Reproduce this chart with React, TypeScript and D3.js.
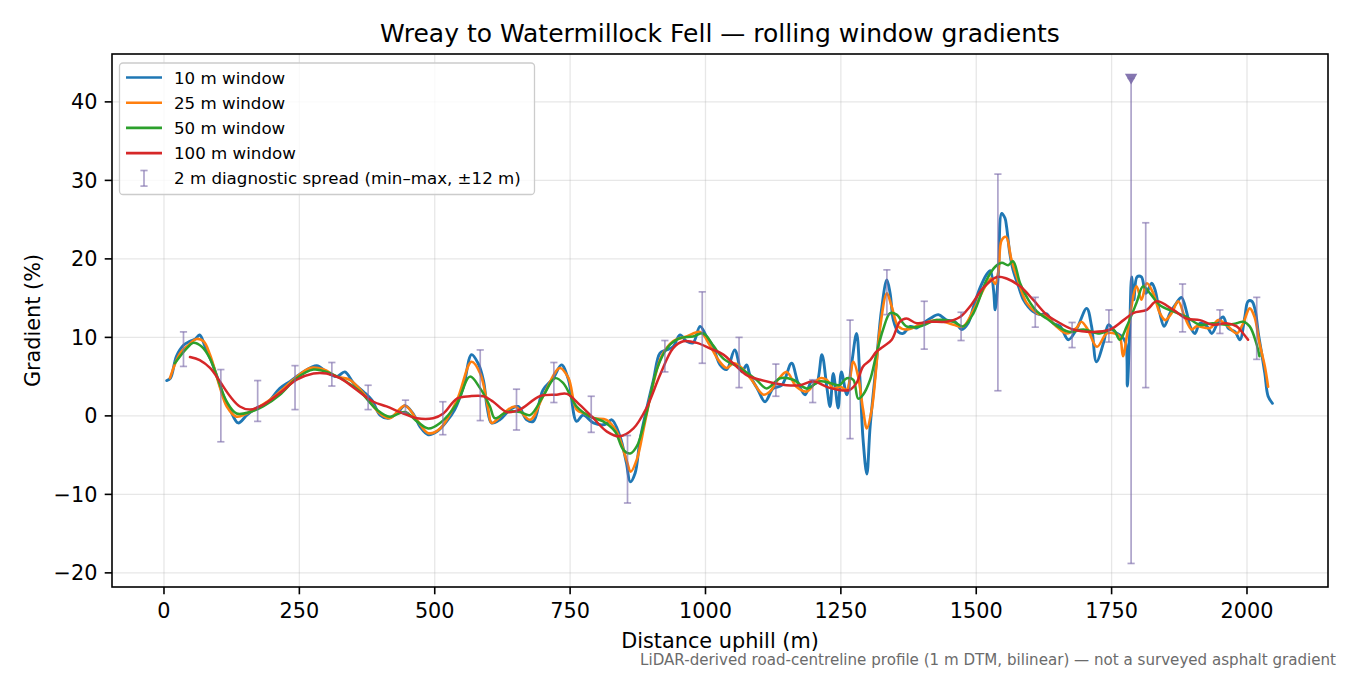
import React, { FC } from 'react'
import * as d3 from 'd3'

// distance uphill (m) and gradient (%) for each rolling window
const dist10 = [5, 12, 23, 36, 48, 58, 66, 76, 88, 100, 110, 122, 137, 153, 171, 190, 214, 233, 257, 282, 300, 319, 334, 350, 368, 384, 399, 414, 430, 445, 460, 473, 488, 504, 522, 537, 553, 568, 580, 590, 597, 605, 620, 639, 654, 670, 682, 700, 719, 734, 747, 762, 774, 793, 814, 827, 842, 854, 861, 870, 879, 891, 904, 916, 928, 940, 953, 965, 977, 990, 1002, 1014, 1027, 1039, 1054, 1067, 1076, 1082, 1097, 1110, 1125, 1141, 1159, 1171, 1184, 1196, 1205, 1215, 1224, 1230, 1236, 1245, 1251, 1261, 1270, 1279, 1285, 1291, 1298, 1304, 1316, 1325, 1335, 1341, 1347, 1356, 1365, 1378, 1390, 1402, 1415, 1430, 1445, 1461, 1473, 1485, 1495, 1507, 1519, 1526, 1532, 1535, 1541, 1547, 1553, 1556, 1562, 1568, 1578, 1587, 1596, 1605, 1618, 1630, 1642, 1655, 1670, 1685, 1704, 1713, 1722, 1735, 1744, 1756, 1769, 1776, 1779, 1783, 1787, 1791, 1797, 1805, 1813, 1824, 1830, 1839, 1847, 1858, 1870, 1879, 1889, 1895, 1904, 1913, 1926, 1935, 1947, 1956, 1965, 1978, 1987, 1996, 2002, 2009, 2015, 2021, 2027, 2033, 2039, 2047]
const grad10 = [4.5, 4.8, 7.6, 9.0, 9.5, 9.8, 10.3, 8.8, 6.9, 4.6, 2.5, 0.8, -0.9, 0.1, 1.0, 1.6, 3.5, 4.4, 5.6, 6.4, 5.6, 5.0, 5.6, 4.2, 3.1, 2.0, 0.1, -0.3, 0.3, 1.3, 0.3, -1.4, -2.4, -2.0, -0.7, 0.8, 3.7, 7.8, 6.7, 4.5, 1.0, -0.9, -0.5, 0.8, 1.2, -0.5, -0.7, 3.3, 4.8, 6.5, 4.6, -0.7, 0.1, -0.9, -1.1, -0.5, -2.6, -6.0, -8.4, -7.3, -3.1, 0.8, 4.6, 8.0, 8.4, 8.8, 10.3, 9.5, 9.3, 11.4, 10.1, 8.8, 6.5, 5.9, 8.4, 5.6, 6.5, 5.2, 3.3, 1.8, 3.5, 3.9, 6.7, 4.2, 2.7, 4.4, 4.2, 7.8, 3.7, 1.2, 5.4, 1.0, 5.6, 2.7, 6.7, 10.5, 5.0, -3.0, -7.4, -1.4, 7.1, 13.5, 17.3, 15.6, 12.2, 10.7, 10.5, 11.4, 11.2, 11.8, 12.4, 12.9, 12.2, 12.0, 11.0, 11.8, 13.9, 16.3, 18.0, 18.5, 16.0, 13.5, 18.2, 25.8, 25.2, 24.1, 20.7, 18.6, 16.5, 14.8, 13.9, 13.3, 12.9, 13.0, 11.8, 11.4, 9.7, 11.0, 13.7, 11.4, 6.9, 9.3, 11.6, 10.7, 10.1, 9.3, 3.8, 10.0, 17.7, 14.8, 17.7, 17.7, 15.6, 16.9, 16.1, 13.1, 11.4, 13.1, 14.4, 15.1, 13.1, 11.4, 10.5, 11.8, 11.4, 10.5, 12.0, 12.6, 11.2, 10.7, 9.7, 12.6, 14.6, 14.6, 13.5, 10.5, 8.0, 5.4, 2.5, 1.6]

const dist25 = [11, 30, 45, 60, 73, 85, 103, 116, 134, 153, 177, 208, 239, 270, 295, 319, 343, 368, 399, 417, 445, 467, 488, 510, 541, 568, 584, 599, 605, 627, 648, 676, 700, 731, 747, 762, 777, 795, 817, 836, 854, 862, 873, 888, 904, 919, 940, 965, 990, 1008, 1024, 1039, 1052, 1064, 1085, 1107, 1119, 1134, 1150, 1168, 1187, 1211, 1224, 1236, 1249, 1261, 1273, 1282, 1291, 1298, 1307, 1316, 1322, 1335, 1344, 1356, 1371, 1396, 1427, 1458, 1476, 1495, 1519, 1528, 1535, 1541, 1547, 1555, 1565, 1577, 1593, 1612, 1630, 1648, 1667, 1685, 1694, 1706, 1723, 1741, 1756, 1765, 1771, 1779, 1796, 1805, 1815, 1827, 1839, 1849, 1861, 1873, 1885, 1898, 1907, 1932, 1947, 1962, 1981, 1993, 2005, 2014, 2023, 2033, 2039]
const grad25 = [4.8, 8.0, 9.0, 9.8, 9.5, 7.8, 3.7, 1.2, -0.1, 0.3, 1.2, 2.7, 4.6, 6.1, 5.9, 5.0, 4.6, 2.9, 0.3, -0.3, 1.3, -0.5, -2.2, -1.6, 2.0, 6.9, 5.4, 0.8, -0.9, 0.3, 1.2, -0.5, 2.5, 6.1, 4.8, 0.8, 0.3, -0.3, -0.5, -2.0, -5.6, -7.1, -5.6, -0.9, 4.2, 7.6, 9.5, 10.1, 10.7, 9.0, 7.1, 6.1, 6.7, 6.3, 4.6, 2.7, 3.1, 4.6, 5.6, 3.7, 3.1, 4.8, 4.6, 3.5, 3.7, 3.3, 6.9, 5.0, 0.8, -1.6, 0.8, 6.7, 11.0, 15.6, 13.9, 11.4, 11.0, 11.6, 12.2, 11.6, 11.4, 13.5, 16.8, 17.5, 16.8, 18.5, 22.4, 22.8, 19.9, 17.3, 14.4, 13.1, 12.6, 11.4, 10.5, 11.2, 12.0, 11.0, 8.8, 10.5, 10.5, 10.1, 7.6, 10.5, 16.5, 14.8, 16.9, 15.6, 13.1, 12.2, 13.1, 14.6, 12.6, 11.0, 11.4, 11.2, 12.2, 11.6, 10.5, 11.8, 13.7, 12.6, 9.3, 6.3, 3.7]

const dist50 = [20, 42, 54, 70, 85, 100, 116, 134, 159, 183, 214, 245, 276, 300, 331, 362, 393, 417, 445, 467, 488, 510, 541, 565, 584, 602, 611, 633, 657, 676, 700, 722, 737, 762, 787, 811, 833, 848, 861, 873, 891, 910, 931, 953, 977, 996, 1014, 1033, 1064, 1094, 1113, 1138, 1162, 1187, 1211, 1230, 1247, 1261, 1273, 1282, 1291, 1304, 1316, 1328, 1341, 1353, 1371, 1396, 1427, 1458, 1476, 1495, 1519, 1535, 1547, 1559, 1568, 1581, 1596, 1612, 1630, 1655, 1673, 1698, 1728, 1753, 1765, 1778, 1796, 1808, 1821, 1839, 1864, 1888, 1913, 1937, 1962, 1981, 1993, 2005, 2017, 2023]
const grad50 = [6.7, 8.6, 9.3, 8.8, 7.3, 4.6, 1.8, 0.3, 0.5, 1.2, 2.7, 4.8, 5.9, 5.6, 4.6, 3.1, 0.8, -0.1, 0.5, -0.7, -1.6, -0.9, 1.6, 5.0, 3.5, 1.2, -0.3, 0.5, 0.5, 0.1, 2.5, 4.8, 4.2, 1.2, -0.1, -0.7, -2.0, -4.3, -4.8, -3.9, 0.3, 5.9, 8.8, 9.9, 10.1, 10.5, 9.0, 7.3, 6.1, 4.6, 3.5, 4.8, 4.6, 3.5, 4.4, 4.2, 3.9, 4.8, 4.6, 2.2, 2.7, 4.6, 8.0, 11.0, 13.1, 12.9, 11.4, 11.4, 12.2, 12.0, 11.4, 13.1, 17.3, 19.0, 19.5, 19.2, 19.7, 16.9, 14.8, 13.3, 12.4, 11.2, 10.7, 11.0, 10.5, 11.0, 9.7, 11.4, 14.4, 16.5, 15.6, 14.1, 13.3, 12.6, 11.6, 11.8, 11.6, 11.8, 12.0, 11.4, 9.3, 7.6]

const dist100 = [48, 66, 85, 103, 122, 140, 159, 183, 214, 245, 276, 300, 325, 356, 387, 411, 442, 467, 497, 516, 541, 565, 590, 608, 633, 657, 694, 725, 744, 768, 793, 818, 842, 867, 891, 916, 940, 959, 984, 1008, 1033, 1051, 1076, 1101, 1125, 1150, 1174, 1199, 1224, 1247, 1266, 1279, 1291, 1304, 1316, 1328, 1344, 1359, 1371, 1390, 1415, 1445, 1470, 1488, 1513, 1538, 1556, 1581, 1605, 1630, 1655, 1679, 1716, 1747, 1772, 1790, 1815, 1833, 1864, 1888, 1913, 1937, 1962, 1981, 1993, 2002]
const grad100 = [7.5, 7.1, 6.1, 4.4, 2.5, 1.2, 0.8, 1.4, 2.9, 4.6, 5.4, 5.4, 4.8, 3.3, 1.8, 1.2, 0.3, -0.3, -0.3, 0.3, 2.2, 2.5, 2.5, 1.8, 0.5, 0.8, 2.5, 2.7, 2.8, 1.4, -0.3, -2.0, -2.6, -1.6, 1.0, 5.2, 8.6, 9.5, 9.3, 8.6, 7.8, 6.7, 5.2, 4.6, 4.2, 3.9, 3.9, 4.4, 3.7, 3.3, 3.3, 4.2, 6.3, 7.1, 8.2, 8.8, 9.7, 12.0, 12.4, 11.8, 12.0, 12.0, 12.6, 13.9, 16.3, 17.7, 17.5, 16.5, 14.8, 12.9, 11.8, 11.0, 10.7, 11.0, 12.2, 13.1, 13.5, 14.6, 13.5, 12.4, 12.2, 11.6, 11.8, 11.4, 10.5, 9.7]

// 2 m diagnostic spread (min–max within ±12 m)
const spreadDist = [36, 105, 173, 242, 310, 377, 446, 515, 584, 651, 720, 789, 856, 925, 994, 1062, 1130, 1198, 1267, 1335, 1404, 1472, 1540, 1609, 1677, 1745, 1813, 1881, 1950, 2018]
const spreadMin = [6.3, -3.3, -0.7, 0.8, 3.8, 0.8, 0.4, -2.4, -0.6, -1.8, 1.7, -2.1, -11.1, 5.6, 6.7, 3.6, 2.5, 1.7, -2.9, 12.9, 8.5, 9.6, 3.2, 11.3, 8.7, 9.4, 3.6, 10.7, 10.5, 7.2]
const spreadMax = [10.7, 5.9, 4.5, 6.4, 6.8, 3.9, 2.0, 1.8, 8.4, 3.4, 6.8, 2.5, -2.5, 9.6, 15.8, 10.0, 6.6, 4.6, 12.2, 18.6, 14.6, 13.2, 30.8, 15.1, 11.9, 13.5, 24.6, 16.8, 13.5, 15.1]

// spread that runs off the chart, flagged with a marker
const flaggedDist = [1786]
const flaggedMin = [-18.8]
const flaggedMax = [43]

const xTicks = [0, 250, 500, 750, 1000, 1250, 1500, 1750, 2000]
const yTicks = [-20, -10, 0, 10, 20, 30, 40]

const seriesNames = ['10 m window', '25 m window', '50 m window', '100 m window']
const seriesColors = ['#1f77b4', '#ff7f0e', '#2ca02c', '#d62728']
const spreadName = '2 m diagnostic spread (min\u2013max, \u00b112 m)'

const width = 1350
const height = 675
const plot = { left: 112, right: 1328, top: 54, bottom: 587 }
const spreadColor = '#7b6aa9'
const cap = 3.6

const x = d3.scaleLinear().domain([-96, 2149.6]).range([plot.left, plot.right])
const y = d3.scaleLinear().domain([-21.8, 46.1]).range([plot.bottom, plot.top])

const line = d3
	.line<[number, number]>()
	.x((d) => x(d[0]))
	.y((d) => y(d[1]))
	.curve(d3.curveCatmullRom.alpha(0.5))

const fmt = (v: number) => (v < 0 ? `\u2212${Math.abs(v)}` : `${v}`)

const ErrorBar: FC<{ cx: number; y1: number; y2: number }> = ({ cx, y1, y2 }) => (
	<g>
		<line x1={cx} x2={cx} y1={y1} y2={y2} />
		<line x1={cx - cap} x2={cx + cap} y1={y1} y2={y1} />
		<line x1={cx - cap} x2={cx + cap} y1={y2} y2={y2} />
	</g>
)

const Chart: FC = () => {
	const series = [
		{ dist: dist10, grad: grad10, lw: 2.9 },
		{ dist: dist25, grad: grad25, lw: 2.6 },
		{ dist: dist50, grad: grad50, lw: 2.5 },
		{ dist: dist100, grad: grad100, lw: 2.5 },
	]
	const spreads = spreadDist
		.map((d, i) => ({ d, lo: spreadMin[i], hi: spreadMax[i] }))
		.concat(flaggedDist.map((d, i) => ({ d, lo: flaggedMin[i], hi: flaggedMax[i] })))
	const tri = d3.symbol(d3.symbolTriangle, 66)() ?? ''
	const rowY = (i: number) => 77.5 + i * 25.2

	return (
		<svg
			width={width}
			height={height}
			style={{ display: 'block', fontFamily: "'DejaVu Sans', sans-serif" }}
		>
			<rect width={width} height={height} fill='#fff' />

			{/* grid */}
			<g stroke='#b0b0b0' strokeOpacity={0.3} strokeWidth={1.3}>
				{xTicks.map((t) => (
					<line key={`gx${t}`} x1={x(t)} x2={x(t)} y1={plot.top} y2={plot.bottom} />
				))}
				{yTicks.map((t) => (
					<line key={`gy${t}`} x1={plot.left} x2={plot.right} y1={y(t)} y2={y(t)} />
				))}
			</g>

			{/* window lines */}
			{series.map((s, i) => (
				<path
					key={seriesNames[i]}
					d={line(d3.zip(s.dist, s.grad) as [number, number][]) ?? ''}
					fill='none'
					stroke={seriesColors[i]}
					strokeWidth={s.lw}
					strokeLinejoin='round'
					strokeLinecap='round'
				/>
			))}

			{/* spread bars */}
			<g stroke={spreadColor} strokeOpacity={0.62} strokeWidth={1.7}>
				{spreads.map((s) => (
					<ErrorBar key={`eb${s.d}`} cx={x(s.d)} y1={y(s.lo)} y2={y(s.hi)} />
				))}
			</g>
			{flaggedDist.map((d, i) => (
				<path
					key={`fl${d}`}
					d={tri}
					transform={`translate(${x(d)},${y(flaggedMax[i]) - 1}) rotate(180)`}
					fill={spreadColor}
					fillOpacity={0.92}
				/>
			))}

			{/* spines */}
			<rect
				x={plot.left}
				y={plot.top}
				width={plot.right - plot.left}
				height={plot.bottom - plot.top}
				fill='none'
				stroke='#000'
				strokeWidth={1.6}
			/>

			{/* x axis */}
			{xTicks.map((t) => (
				<g key={`xt${t}`}>
					<line x1={x(t)} x2={x(t)} y1={plot.bottom} y2={plot.bottom + 7.3} stroke='#000' strokeWidth={1.6} />
					<text x={x(t)} y={plot.bottom + 30.5} textAnchor='middle' fontSize={20.8}>
						{t}
					</text>
				</g>
			))}

			{/* y axis */}
			{yTicks.map((t) => (
				<g key={`yt${t}`}>
					<line x1={plot.left - 7.3} x2={plot.left} y1={y(t)} y2={y(t)} stroke='#000' strokeWidth={1.6} />
					<text x={plot.left - 14.6} y={y(t) + 7.5} textAnchor='end' fontSize={20.8}>
						{fmt(t)}
					</text>
				</g>
			))}

			<text x={(plot.left + plot.right) / 2} y={648} textAnchor='middle' fontSize={20.8}>
				Distance uphill (m)
			</text>
			<text
				transform={`translate(40,${(plot.top + plot.bottom) / 2}) rotate(-90)`}
				textAnchor='middle'
				fontSize={20.8}
			>
				Gradient (%)
			</text>
			<text x={(plot.left + plot.right) / 2} y={41.5} textAnchor='middle' fontSize={25}>
				Wreay to Watermillock Fell — rolling window gradients
			</text>
			<text x={1336} y={665} textAnchor='end' fontSize={15.1} fill='#6b6b6b'>
				LiDAR-derived road-centreline profile (1 m DTM, bilinear) — not a surveyed asphalt gradient
			</text>

			{/* legend */}
			<g>
				<rect
					x={119.5}
					y={63}
					width={415}
					height={131.5}
					rx={3.5}
					fill='#fff'
					fillOpacity={0.8}
					stroke='#cccccc'
					strokeWidth={1.3}
				/>
				{seriesNames.map((name, i) => (
					<g key={`lg${name}`}>
						<line x1={126} x2={162} y1={rowY(i)} y2={rowY(i)} stroke={seriesColors[i]} strokeWidth={2.6} />
						<text x={174} y={rowY(i) + 6} fontSize={16.67}>
							{name}
						</text>
					</g>
				))}
				<g stroke={spreadColor} strokeOpacity={0.62} strokeWidth={1.7}>
					<ErrorBar cx={144} y1={rowY(4) - 7.8} y2={rowY(4) + 7.8} />
				</g>
				<text x={174} y={rowY(4) + 6} fontSize={16.67}>
					{spreadName}
				</text>
			</g>
		</svg>
	)
}

const App: FC = () => {
	React.useEffect(() => {
		document.body.style.margin = '0'
	}, [])
	return (
		<div>
			<Chart />
		</div>
	)
}

export default App
